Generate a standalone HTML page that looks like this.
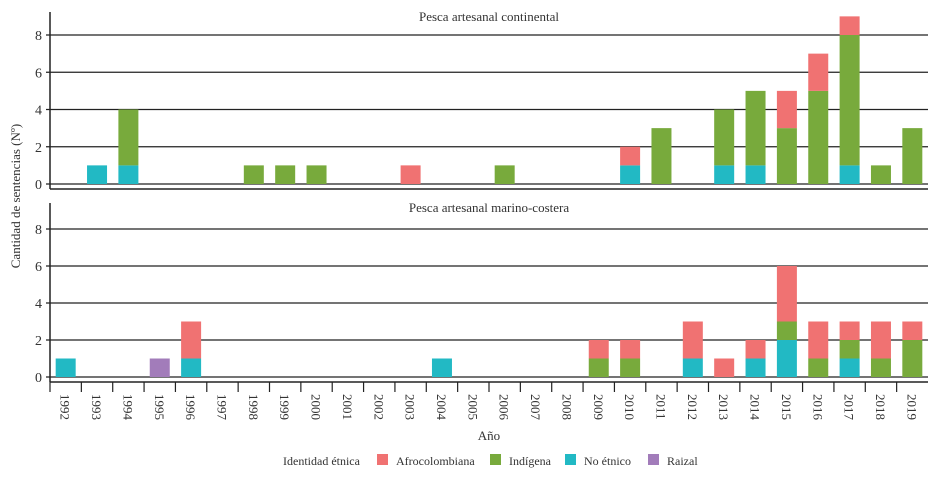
<!DOCTYPE html>
<html><head><meta charset="utf-8"><style>
body{margin:0;background:#fff;font-family:"Liberation Serif",serif;}
svg text{font-family:"Liberation Serif",serif;fill:#333;}
</style></head><body>
<svg id="c" width="936" height="473"></svg>
<script>
const years=[1992,1993,1994,1995,1996,1997,1998,1999,2000,2001,2002,2003,2004,2005,2006,2007,2008,2009,2010,2011,2012,2013,2014,2015,2016,2017,2018,2019];
const topNoEtnico=[0,1,1,0,0,0,0,0,0,0,0,0,0,0,0,0,0,0,1,0,0,1,1,0,0,1,0,0];
const topIndigena=[0,0,3,0,0,0,1,1,1,0,0,0,0,0,1,0,0,0,0,3,0,3,4,3,5,7,1,3];
const topAfro=[0,0,0,0,0,0,0,0,0,0,0,1,0,0,0,0,0,0,1,0,0,0,0,2,2,1,0,0];
const topRaizal=[0,0,0,0,0,0,0,0,0,0,0,0,0,0,0,0,0,0,0,0,0,0,0,0,0,0,0,0];
const botNoEtnico=[1,0,0,0,1,0,0,0,0,0,0,0,1,0,0,0,0,0,0,0,1,0,1,2,0,1,0,0];
const botIndigena=[0,0,0,0,0,0,0,0,0,0,0,0,0,0,0,0,0,1,1,0,0,0,0,1,1,1,1,2];
const botAfro=[0,0,0,0,2,0,0,0,0,0,0,0,0,0,0,0,0,1,1,0,2,1,1,3,2,1,2,1];
const botRaizal=[0,0,0,1,0,0,0,0,0,0,0,0,0,0,0,0,0,0,0,0,0,0,0,0,0,0,0,0];
const yTicks=[0,2,4,6,8];
const seriesNames=["Afrocolombiana","Indígena","No étnico","Raizal"];
const colors={"Afrocolombiana":"#f07272","Indígena":"#78aa3c","No étnico":"#22b9c4","Raizal":"#a27cba"};
const NS="http://www.w3.org/2000/svg";
const svg=document.getElementById('c');
function el(t,a,p){const e=document.createElementNS(NS,t);for(const k in a)e.setAttribute(k,a[k]);(p||svg).appendChild(e);return e;}
const x0=50,x1=928,step=(x1-x0)/years.length,bw=20;
function xc(i){return x0+step*(i+0.5);}
const panels=[
 {title:"Pesca artesanal continental",zero:184,eight:35,axTop:12,axBot:189,s:{"No étnico":topNoEtnico,"Indígena":topIndigena,"Afrocolombiana":topAfro,"Raizal":topRaizal},name:"continental"},
 {title:"Pesca artesanal marino-costera",zero:377,eight:229,axTop:203,axBot:382,s:{"No étnico":botNoEtnico,"Indígena":botIndigena,"Afrocolombiana":botAfro,"Raizal":botRaizal},name:"marino-costera"}
];
panels.forEach(p=>{
 const g=el('g',{});
 
 
 const y=v=>p.zero-(p.zero-p.eight)*v/8;
 yTicks.forEach(t=>{
  const l=el('line',{x1:x0-4,x2:x1,y1:y(t),y2:y(t),stroke:'#222','stroke-width':1.2},g);
  
  
  const tx=el('text',{x:x0-8,y:y(t)+5,'text-anchor':'end','font-size':14},g);
  tx.textContent=t;
  
  
 });
 const order=["No étnico","Indígena","Afrocolombiana","Raizal"];
 years.forEach((yr,i)=>{
  let acc=0;
  order.forEach(k=>{
   const v=p.s[k][i]; if(!v)return;
   const r=el('rect',{x:xc(i)-bw/2,y:y(acc+v),width:bw,height:y(acc)-y(acc+v),fill:colors[k]},g);
   
   
   acc+=v;
  });
 });
 const ax=el('line',{x1:x0,x2:x0,y1:p.axTop,y2:p.axBot,stroke:'#222','stroke-width':1.5},g);
 
 
 const bx=el('line',{x1:x0,x2:x1,y1:p.axBot,y2:p.axBot,stroke:'#222','stroke-width':1.5},g);
 
 
 const tt=el('text',{x:(x0+x1)/2,y:p.axTop+9,'text-anchor':'middle','font-size':13},g);
 tt.textContent=p.title;
 
 
});
years.forEach((yr,i)=>{
 const tk=el('line',{x1:x0+step*i,x2:x0+step*i,y1:382,y2:392,stroke:'#222','stroke-width':1.2});
 
 
 const t=el('text',{x:0,y:0,'font-size':13,transform:`translate(${xc(i)-5},394) rotate(90)`});
 t.textContent=yr;
 
 
});
const yt=el('text',{x:0,y:0,'font-size':13,'text-anchor':'middle',transform:'translate(20,196) rotate(-90)'});
yt.textContent="Cantidad de sentencias (Nº)";


const xt=el('text',{x:489,y:440,'font-size':13,'text-anchor':'middle'});
xt.textContent="Año";


const lt=el('text',{x:283,y:465,'font-size':12});
lt.textContent="Identidad étnica";


const lx=[377,490,565,648];
seriesNames.forEach((n,i)=>{
 const r=el('rect',{x:lx[i],y:454,width:11,height:11,fill:colors[n]});
 
 
 const t=el('text',{x:lx[i]+19,y:465,'font-size':12});
 t.textContent=n;
 
 
});
</script>
</body></html>
